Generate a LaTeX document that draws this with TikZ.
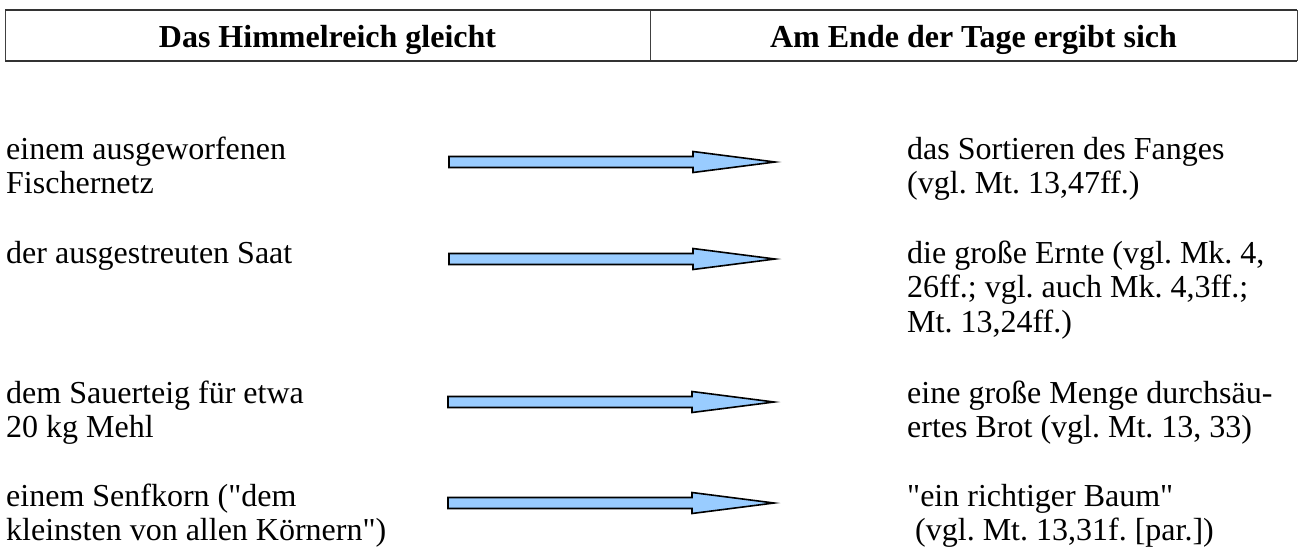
\documentclass[tikz,border=0pt]{standalone}
\usepackage{fontspec}
\newfontfamily\serifa{Liberation Serif}
\usepackage{tikz}
\usetikzlibrary{positioning}
\definecolor{azulflecha}{HTML}{99CCFF}
\frenchspacing
\tikzset{
	x=1pt, y=-1pt, % Unidades en pixeles, eje y hacia abajo
	texto/.style={font=\serifa\fontsize{32}{34.8}\selectfont, inner sep=0pt, align=left, anchor=base west}, % Texto de las columnas (ancla en la ultima linea)
	titulo/.style={font=\serifa\fontsize{32}{34.8}\selectfont\bfseries, inner sep=0pt, anchor=base}, % Texto de la cabecera
	pics/flecha/.style={code={ % Flecha gruesa azul
		\draw[line width=1.6pt, fill=azulflecha, line join=miter]
			(0,-5.5) -- (244,-5.5) -- (244,-10.5) -- (326,0) -- (244,10.5) -- (244,5.5) -- (0,5.5) -- cycle;
	}}
}

\begin{document}
\begin{tikzpicture}
	\useasboundingbox (0,0) rectangle (1298,550);
	% Cabecera
	\draw[line width=0.8pt, draw=black!75] (5,10) -- (5,61) (650,10) -- (650,61) (1297,10) -- (1297,61);
	\draw[line width=2pt, draw=black!80] (5,10) -- (1297,10) (5,61) -- (1297,61);
	\node[titulo] (h1) at (327.5,47) {Das Himmelreich gleicht};
	\node[titulo] (h2) at (973.5,47) {Am Ende der Tage ergibt sich};
	% Columna izquierda
	\node[texto] (l1) at (6,193.8) {einem ausgeworfenen\\Fischernetz};
	\node[texto] (l2) at (6,263) {der ausgestreuten Saat};
	\node[texto] (l3) at (6,437.8) {dem Sauerteig für etwa\\20 kg Mehl};
	\node[texto] (l4) at (6,540.8) {einem Senfkorn ("dem\\kleinsten von allen Körnern")};
	% Columna derecha
	\node[texto] (r1) at (907,193.8) {das Sortieren des Fanges\\(vgl. Mt. 13,47ff.)};
	\node[texto] (r2) at (907,332.6) {die große Ernte (vgl. Mk. 4,\\26ff.; vgl. auch Mk. 4,3ff.;\\Mt. 13,24ff.)};
	\node[texto] (r3) at (907,437.8) {eine große Menge durchsäu-\\ertes Brot (vgl. Mt. 13, 33)};
	\node[texto] (r4) at (907,540.8) {"ein richtiger Baum"\\\hspace*{0.25em}(vgl. Mt. 13,31f. [par.])};
	% Flechas
	\pic (f1) at (449,162) {flecha};
	\pic (f2) at (449,259) {flecha};
	\pic (f3) at (448,402) {flecha};
	\pic (f4) at (448,503) {flecha};
\end{tikzpicture}
\end{document}
